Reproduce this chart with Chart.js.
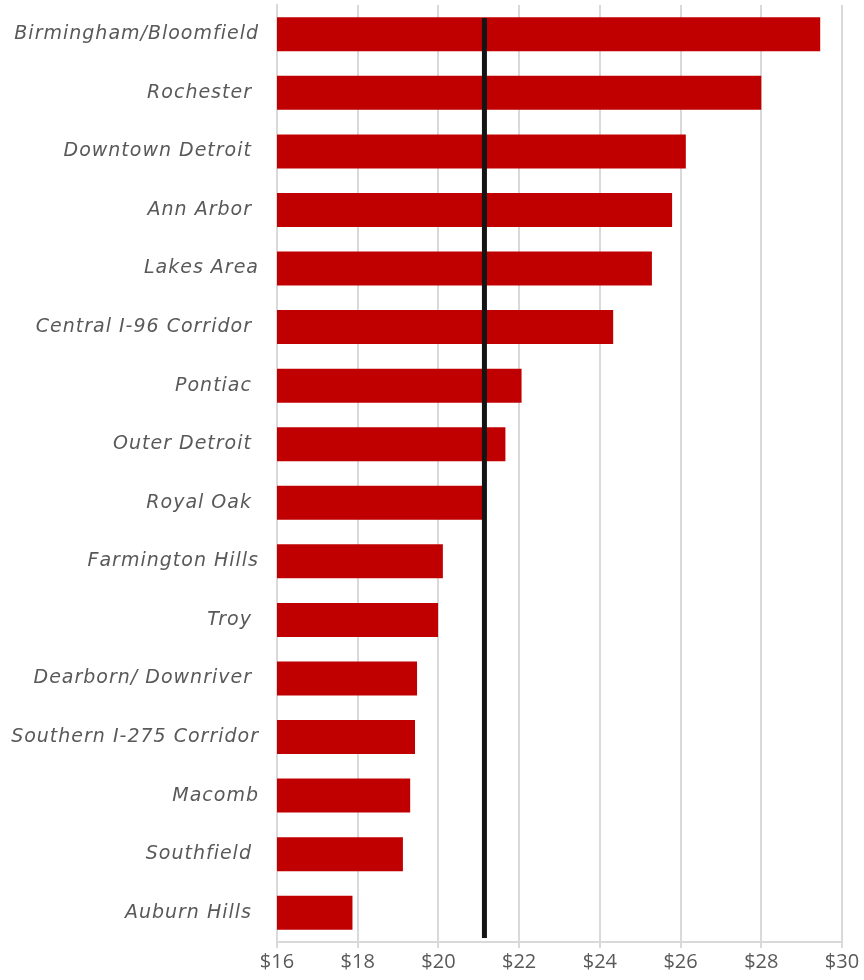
<!DOCTYPE html>
<html>
<head>
<meta charset="utf-8">
<script src="https://cdn.jsdelivr.net/npm/chart.js@4/dist/chart.umd.min.js"></script>
<style>
  html, body { margin: 0; padding: 0; background: #fff; }
  #wrap { width: 864px; height: 980px; }
</style>
</head>
<body>
<div id="wrap"><canvas id="rent-chart"></canvas></div>
<script>
'use strict';

// trailing spaces kept as in the source labels
var areas = [
    'Birmingham/Bloomfield', 'Rochester ', 'Downtown Detroit ', 'Ann Arbor ',
    'Lakes Area', 'Central I-96 Corridor ', 'Pontiac ', 'Outer Detroit ',
    'Royal Oak ', 'Farmington Hills', 'Troy ', 'Dearborn/ Downriver ',
    'Southern I-275 Corridor', 'Macomb', 'Southfield ', 'Auburn Hills '
];
var rents = [
    29.46, 28.00, 26.13, 25.79,
    25.29, 24.33, 22.06, 21.66,
    21.08, 20.11, 19.99, 19.47,
    19.42, 19.30, 19.12, 17.87
];
var averageRent = 21.14;
var xTicks = [16, 18, 20, 22, 24, 26, 28, 30];

var averageLine = {
    id: 'averageLine',
    afterDatasetsDraw: function(chart) {
        var ctx = chart.ctx;
        var area = chart.chartArea;
        var x = chart.scales.x.getPixelForValue(averageRent);
        ctx.save();
        ctx.strokeStyle = '#141414';
        ctx.lineWidth = 5;
        ctx.beginPath();
        ctx.moveTo(x, area.top + 13);
        ctx.lineTo(x, area.bottom - 4);
        ctx.stroke();
        ctx.restore();
    }
};

// wider category labels: add letter spacing only while the y labels are drawn
var spacedLabels = {
    id: 'spacedLabels',
    afterUpdate: function(chart) {
        var scale = chart.scales.y;
        if (scale._spaced) return;
        var orig = scale.drawLabels;
        scale.drawLabels = function(area) {
            var c = this.ctx;
            c.save();
            c.letterSpacing = '1px';
            orig.call(this, area);
            c.restore();
        };
        scale._spaced = true;
    }
};

var ctx = document.getElementById('rent-chart').getContext('2d');
var rentChart = new Chart(ctx, {
    type: 'bar',
    data: {
        labels: areas,
        datasets: [{
            label: 'Rent',
            data: rents,
            backgroundColor: '#c00000',
            borderWidth: 0,
            barPercentage: 0.58,
            categoryPercentage: 1
        }]
    },
    options: {
        indexAxis: 'y',
        responsive: true,
        maintainAspectRatio: false,
        animation: false,
        layout: { padding: { top: 5, right: 22, left: 0, bottom: 0 } },
        plugins: {
            legend: { display: false },
            tooltip: { enabled: false }
        },
        scales: {
            x: {
                min: 16,
                max: 30,
                afterBuildTicks: function(axis) {
                    axis.ticks = xTicks.map(function(v) { return { value: v }; });
                },
                afterFit: function(axis) { axis.height = 38; },
                grid: {
                    color: '#d9d9d9',
                    lineWidth: 2,
                    tickLength: 6,
                    tickColor: '#d9d9d9'
                },
                border: { color: '#d9d9d9', width: 2 },
                ticks: {
                    color: '#595959',
                    padding: 2,
                    maxRotation: 0,
                    font: { family: 'Open Sans', size: 20 },
                    callback: function(v) { return '$' + v; }
                }
            },
            y: {
                afterFit: function(axis) {
                    axis.width = 277;
                    axis.paddingTop = 0;
                    axis.paddingBottom = 0;
                },
                grid: { display: false, drawTicks: false },
                border: { color: '#d9d9d9', width: 2 },
                ticks: {
                    color: '#595959',
                    padding: 18,
                    autoSkip: false,
                    font: { family: 'DejaVu Sans', size: 19, style: 'italic' }
                }
            }
        }
    },
    plugins: [averageLine, spacedLabels]
});
</script>
</body>
</html>
